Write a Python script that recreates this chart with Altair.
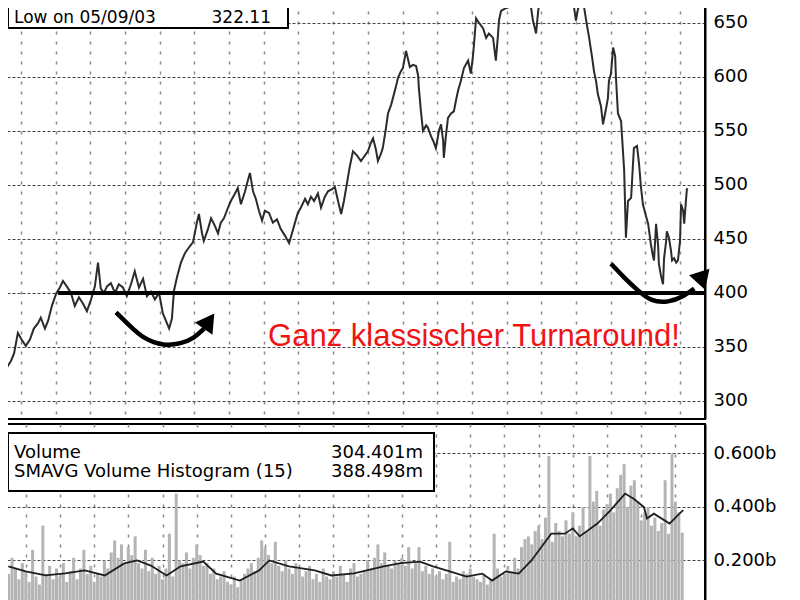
import altair as alt
import pandas as pd

# ---------------- data ----------------
price_day = [4.9, 5.9, 7.1, 8.0, 9.1, 10.3, 11.4, 12.6, 13.7, 14.9, 15.7, 16.9, 17.8, 18.9, 20.1, 21.2, 22.1, 23.2, 24.4, 25.5,
             26.7, 27.9, 29.0, 30.2, 31.3, 32.2, 33.0, 33.9, 34.8, 35.9, 37.1, 38.2, 39.4, 40.5, 41.7, 42.8, 44.0, 45.2, 46.3, 47.5,
             48.6, 49.8, 50.9, 51.8, 52.7, 53.5, 54.1, 55.0, 56.1, 57.3, 58.4, 59.6, 60.7, 61.3, 62.2, 62.7, 63.9, 64.8, 65.9, 66.8,
             67.6, 68.5, 69.7, 70.5, 71.7, 72.5, 73.4, 74.6, 75.4, 76.0, 76.9, 77.7, 78.6, 79.5, 80.3, 81.5, 82.6, 83.8, 84.9, 86.1,
             87.3, 88.1, 89.0, 89.8, 90.7, 91.9, 92.7, 93.6, 94.5, 95.6, 96.5, 97.6, 98.5, 99.7, 100.5, 101.4, 102.3, 103.1, 104.0, 104.8,
             105.7, 106.9, 108.0, 108.9, 110.0, 110.9, 111.5, 112.3, 112.9, 113.8, 114.3, 115.2, 115.8, 116.7, 117.2, 118.1, 118.7, 119.5, 120.1, 121.0,
             121.6, 122.1, 123.0, 123.9, 124.5, 124.7, 125.3, 125.9, 126.8, 127.3, 128.2, 128.8, 129.6, 130.5, 131.1, 131.7, 131.9, 132.5, 133.1, 134.0,
             134.8, 135.4, 136.0, 136.8, 137.7, 138.9, 139.7, 140.3, 140.6, 141.2, 142.0, 143.2, 144.1, 144.9, 146.1, 146.9, 147.5, 147.8, 148.4, 149.5,
             150.4, 151.0, 151.8, 154.2, 156.2, 157.0, 157.6, 158.5, 159.1, 159.9, 162.2, 164.2, 164.8, 165.7, 167.4, 168.6, 169.4, 170.0, 170.6, 171.5,
             172.3, 173.2, 173.8, 174.6, 175.2, 175.8, 176.3, 177.2, 177.8, 178.7, 179.2, 179.5, 180.1, 180.7, 181.3, 181.5, 182.1, 183.0, 183.9, 184.2,
             184.4, 185.0, 185.9, 186.4, 186.7, 187.6, 188.2, 188.7, 189.3, 190.2, 190.8, 191.6, 192.2, 192.5, 193.1, 193.7, 193.9, 194.5, 195.1, 195.4,
             196.0, 196.2, 196.8, 197.4, 197.7, 198.3, 198.9, 199.4, 200.0, 200.3, 200.9, 201.2, 201.7, 202.0]
price_val = [322, 331, 337, 344, 363, 356, 351, 357, 367, 372, 377, 367, 374, 388, 399, 405, 411, 406, 400, 388,
             396, 390, 383, 394, 406, 428, 404, 400, 406, 409, 400, 408, 405, 397, 408, 420, 405, 413, 397, 401,
             394, 400, 381, 374, 367, 376, 402, 415, 428, 437, 442, 447, 465, 473, 455, 448, 459, 469, 462, 455,
             465, 469, 479, 485, 492, 497, 482, 494, 504, 511, 494, 487, 476, 467, 476, 474, 465, 468, 459, 453,
             446, 455, 465, 474, 479, 487, 482, 489, 485, 492, 479, 489, 494, 496, 498, 485, 473, 485, 502, 517,
             531, 527, 522, 526, 531, 539, 543, 533, 522, 529, 534, 552, 566, 574, 580, 591, 599, 605, 608, 624,
             616, 609, 611, 610, 601, 590, 568, 550, 555, 553, 545, 541, 534, 550, 556, 541, 525, 545, 562, 566,
             568, 578, 587, 596, 608, 615, 603, 619, 630, 654, 650, 645, 636, 640, 636, 615, 638, 652, 661, 663,
             664, 675, 679, 684, 675, 665, 652, 640, 661, 677, 681, 673, 667, 675, 677, 673, 665, 652, 663, 668,
             665, 647, 636, 619, 605, 596, 584, 573, 556, 571, 580, 596, 603, 627, 619, 601, 566, 559, 513, 476,
             451, 485, 488, 517, 534, 536, 519, 499, 482, 471, 464, 445, 434, 430, 464, 443, 427, 416, 408, 432,
             448, 457, 451, 439, 430, 432, 428, 430, 448, 482, 476, 464, 485, 497]

vol_day = list(range(5, 203))
vol_m = [150, 210, 170, 130, 190,
         160, 120, 240, 140, 110, 330, 150, 180, 130, 170,
         140, 190, 120, 160, 210, 130, 170, 240, 150, 180,
         120, 150, 140, 200, 170, 230, 275, 210, 260, 190,
         250, 220, 290, 190, 170, 240, 160, 210, 150, 180,
         130, 170, 300, 140, 450, 200, 190, 230, 170, 210,
         260, 220, 180, 190, 150, 170, 130, 140, 160, 120,
         110, 140, 100, 130, 150, 170, 190, 160, 210, 275,
         250, 220, 190, 270, 180, 160, 200, 170, 150, 190,
         170, 140, 160, 180, 130, 150, 120, 170, 140, 130,
         160, 140, 180, 150, 120, 170, 190, 140, 150, 160,
         200, 170, 210, 260, 190, 230, 180, 170, 200, 190,
         210, 180, 250, 170, 190, 250, 160, 180, 150, 170,
         140, 160, 130, 150, 270, 120, 140, 130, 160, 150,
         170, 140, 130, 120, 150, 110, 130, 300, 170, 140,
         150, 180, 160, 210, 170, 250, 280, 290, 260, 310,
         330, 280, 360, 590, 270, 340, 310, 290, 350, 300,
         380, 290, 330, 400, 310, 590, 420, 460, 330, 390,
         410, 450, 380, 470, 520, 560, 400, 480, 500, 420,
         350, 380, 400, 330, 360, 310, 340, 500, 300, 600,
         420, 380, 304]

sma_day = [4.9, 10.0, 15.8, 21.5, 27.3, 33.1, 38.8, 42.6, 46.6, 51.2, 55.3, 61.9, 65.7, 72.6, 78.3, 81.2, 87.0, 94.5,
           99.4, 106.0, 114.7, 119.6, 125.3, 129.1, 134.0, 138.9, 143.5, 146.4, 150.4, 154.2, 157.9, 163.7, 167.7,
           170.0, 172.0, 177.2, 181.0, 185.3, 187.9, 190.8, 191.7, 193.7, 198.3, 201.2, 202.3]
sma_b = [0.178, 0.159, 0.144, 0.152, 0.163, 0.144, 0.189, 0.200, 0.181, 0.144, 0.178, 0.196, 0.151, 0.125, 0.163,
         0.200, 0.178, 0.163, 0.144, 0.152, 0.178, 0.190, 0.196, 0.178, 0.159, 0.140, 0.151, 0.125, 0.159, 0.151,
         0.200, 0.300, 0.300, 0.320, 0.290, 0.338, 0.387, 0.450, 0.430, 0.400, 0.357, 0.375, 0.338, 0.375, 0.388]

# annotation curves (data coordinates)
arrow_id = ["a"] * 7 + ["b"] * 7
arrow_day = [37.4, 40.9, 45.5, 51.2, 56.1, 59.9, 62.8,
             180.1, 183.9, 187.9, 191.7, 196.6, 201.2, 204.1]
arrow_price = [382, 371, 357, 351, 353, 358, 367,
               427, 414, 402, 392, 391, 397, 404]
head_day = [64.2, 206.7]
head_price = [374, 416]
head_angle = [35, 42]

level_value = 400
level_start = 20.7

box1_left = "Low on 05/09/03"
box1_right = "322.11"
box2_left = ["Volume", "SMAVG Volume Histogram (15)"]
box2_right = ["304.401m", "388.498m"]
red_text = "Ganz klassischer Turnaround!"

X_DOMAIN = [4.81, 207.2]
P_DOMAIN = [283.3, 670.1]
V_DOMAIN = [0.0, 0.71]
x_grid = list(range(10, 201, 10))
price_ticks = [300, 350, 400, 450, 500, 550, 600, 650]
vol_ticks = [0.2, 0.4, 0.6]

FONT = "DejaVu Sans"

# ---------------- encodings ----------------
x_enc = alt.X("day:Q", scale=alt.Scale(domain=X_DOMAIN, nice=False, zero=False),
              axis=alt.Axis(values=x_grid, labels=False, ticks=False, domain=False, title=None,
                            grid=True, gridDash=[3, 7], gridColor="#8a8a8a", gridWidth=1.5,
                            minExtent=0, maxExtent=0))

yp_enc = alt.Y("price:Q", scale=alt.Scale(domain=P_DOMAIN, nice=False, zero=False),
               axis=alt.Axis(orient="right", values=price_ticks, title=None, labelFontSize=18,
                             labelFont=FONT, labelColor="black", labelPadding=8, ticks=False,
                             domain=True, domainColor="black", domainWidth=2,
                             grid=True, gridDash=[3, 2], gridColor="#444444", gridWidth=1))

yv_enc = alt.Y("vol:Q", scale=alt.Scale(domain=V_DOMAIN, nice=False, zero=False),
               axis=alt.Axis(orient="right", values=vol_ticks, title=None, labelFontSize=18,
                             labelFont=FONT, labelColor="black", labelPadding=8, ticks=False,
                             labelExpr="format(datum.value, '.3f') + 'b'",
                             domain=True, domainColor="black", domainWidth=2,
                             grid=True, gridDash=[3, 2], gridColor="#444444", gridWidth=1))

one = pd.DataFrame({"k": [0]})

# ---------------- price panel ----------------
price_df = pd.DataFrame({"day": price_day, "price": price_val})
price_line = alt.Chart(price_df).mark_line(color="#2b2b2b", strokeWidth=2, clip=True).encode(x=x_enc, y=yp_enc)

level_df = pd.DataFrame({"day": [level_start], "day2": [X_DOMAIN[1]], "price": [level_value]})
level = alt.Chart(level_df).mark_rule(color="black", strokeWidth=4).encode(x=x_enc, x2="day2:Q", y=yp_enc)

arrows_df = pd.DataFrame({"day": arrow_day, "price": arrow_price, "arrow": arrow_id})
arrows = alt.Chart(arrows_df).mark_line(color="black", strokeWidth=4.5, interpolate="basis").encode(
    x=x_enc, y=yp_enc, detail="arrow:N")

heads_df = pd.DataFrame({"day": head_day, "price": head_price, "ang": head_angle})
heads = alt.Chart(heads_df).mark_point(shape="triangle-up", filled=True, color="black", size=460, opacity=1).encode(
    x=x_enc, y=yp_enc, angle=alt.Angle("ang:Q", scale=None))

red_df = pd.DataFrame({"day": [140.6], "price": [359], "label": [red_text]})
red = alt.Chart(red_df).mark_text(color="#f01414", fontSize=31, font="Liberation Sans",
                                  align="center", baseline="middle").encode(x=x_enc, y=yp_enc, text="label:N")

box1 = alt.Chart(one).mark_rect(fill="white", stroke="black", strokeWidth=2).encode(
    x=alt.value(5), x2=alt.value(285), y=alt.value(1), y2=alt.value(27))
box1_t1 = alt.Chart(one).mark_text(align="left", baseline="alphabetic", fontSize=17, font=FONT, color="black").encode(
    x=alt.value(11), y=alt.value(22), text=alt.value(box1_left))
box1_t2 = alt.Chart(one).mark_text(align="right", baseline="alphabetic", fontSize=17, font=FONT, color="black").encode(
    x=alt.value(268), y=alt.value(22), text=alt.value(box1_right))

price_chart = alt.layer(price_line, level, arrows, heads, red, box1, box1_t1, box1_t2).properties(width=702, height=418)

# ---------------- volume panel ----------------
vol_df = pd.DataFrame({"day": vol_day, "vol": [v / 1000 for v in vol_m]})
bars = alt.Chart(vol_df).mark_bar(color="#b4b4b4", width=3, clip=True).encode(x=x_enc, y=yv_enc)

sma_df = pd.DataFrame({"day": sma_day, "vol": sma_b})
sma = alt.Chart(sma_df).mark_line(color="#1e1e1e", strokeWidth=1.8).encode(x=x_enc, y=yv_enc)

box2 = alt.Chart(one).mark_rect(fill="white", stroke="black", strokeWidth=2).encode(
    x=alt.value(5), x2=alt.value(431), y=alt.value(9), y2=alt.value(67))
box2_texts = []
for i, (lt, rt) in enumerate(zip(box2_left, box2_right)):
    yy = 34 + i * 19
    box2_texts.append(alt.Chart(one).mark_text(align="left", baseline="alphabetic", fontSize=18, font=FONT,
                                               color="black").encode(x=alt.value(11), y=alt.value(yy), text=alt.value(lt)))
    box2_texts.append(alt.Chart(one).mark_text(align="right", baseline="alphabetic", fontSize=18, font=FONT,
                                               color="black").encode(x=alt.value(420), y=alt.value(yy), text=alt.value(rt)))

volume_chart = alt.layer(bars, sma, box2, *box2_texts).properties(width=702, height=190)

chart = alt.vconcat(price_chart, volume_chart, spacing=3).properties(
    padding={"left": -6, "top": -8, "right": 0, "bottom": 0}
).configure_view(stroke="black", strokeWidth=2)

chart.save("out.html", embed_options={"renderer": "svg", "actions": False})
